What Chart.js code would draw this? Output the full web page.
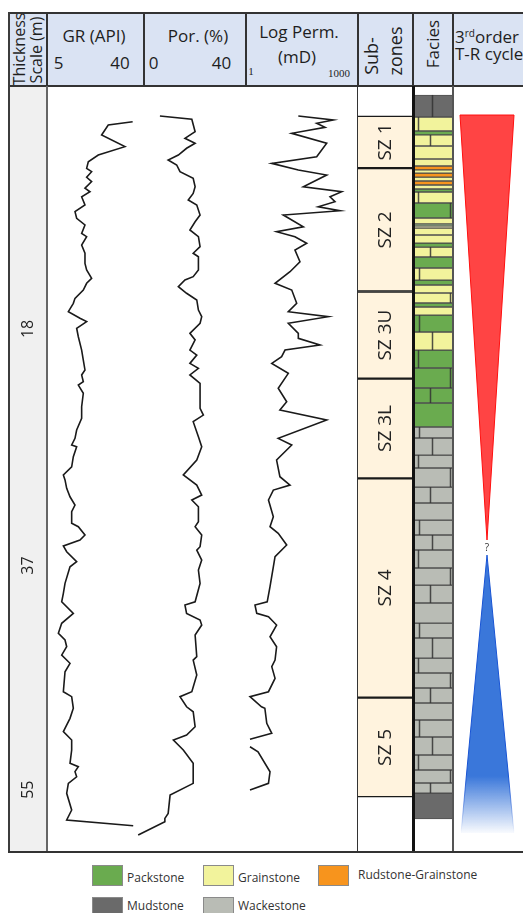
<!DOCTYPE html>
<html lang="en">
<head>
<meta charset="utf-8">
<title>Well log</title>
<script src="https://cdn.jsdelivr.net/npm/chart.js@4.4.1/dist/chart.umd.min.js"></script>
<style>
  html, body { margin:0; padding:0; background:#fff; }
  body { position:relative; width:523px; height:913px; overflow:hidden; font-family:"Open Sans", sans-serif; color:#1e1e1e; }
  canvas.c { position:absolute; display:block; }
  .hdr { position:absolute; left:9px; top:13px; width:540px; height:73px; background:#dae3f3; }
  .t { position:absolute; white-space:nowrap; transform:translate(-50%,-50%); font-size:17px; line-height:1; }
  .r { transform:translate(-50%,-50%) rotate(-90deg); }
  .l { transform:translate(0,-50%); }
  .sm { font-family:"Liberation Serif", serif; font-size:11px; }
  .ln { position:absolute; background:#333; z-index:5; }
  .lg { position:absolute; font-size:12px; color:#333; white-space:nowrap; transform:translate(0,-50%); }
  .sw { position:absolute; width:29px; height:19px; border:1px solid #8a8a8a; }
  sup { font-size:10px; line-height:0; vertical-align:6px; }
</style>
</head>
<body>
<div class="hdr"></div>

<canvas id="depthCv" class="c" width="37" height="766" style="left:10px;top:86px;background:#f0f0f0"></canvas>
<canvas id="logCv" class="c" width="311" height="766" style="left:47px;top:86px"></canvas>
<canvas id="zoneCv" class="c" width="55" height="766" style="left:358px;top:86px"></canvas>
<canvas id="faciesCv" class="c" width="39" height="766" style="left:414px;top:86px"></canvas>
<canvas id="trCv" class="c" width="70" height="766" style="left:453px;top:86px"></canvas>

<!-- frame -->
<div class="ln" style="left:8px;top:12px;width:540px;height:2px"></div>
<div class="ln" style="left:8px;top:85px;width:540px;height:1.5px"></div>
<div class="ln" style="left:8px;top:12px;width:2px;height:841px;background:#3c3c3c"></div>
<div class="ln" style="left:46px;top:12px;width:2px;height:74px"></div>
<div class="ln" style="left:143px;top:12px;width:2px;height:74px"></div>
<div class="ln" style="left:245px;top:12px;width:2px;height:74px"></div>
<div class="ln" style="left:357px;top:12px;width:2px;height:74px"></div>
<div class="ln" style="left:412px;top:12px;width:2px;height:74px"></div>
<div class="ln" style="left:452px;top:12px;width:2px;height:74px"></div>
<div class="ln" style="left:46px;top:86px;width:1.5px;height:766px;background:#666"></div>
<div class="ln" style="left:357px;top:86px;width:1.3px;height:766px;background:#333"></div>
<div class="ln" style="left:412px;top:86px;width:2.5px;height:766px;background:#111"></div>
<div class="ln" style="left:452px;top:86px;width:1.5px;height:766px;background:#555"></div>
<div class="ln" style="left:8px;top:851px;width:540px;height:2px"></div>

<!-- column titles -->
<div class="t r" style="left:19px;top:49px;font-size:16px">Thickness</div>
<div class="t r" style="left:36px;top:50px;font-size:16px">Scale (m)</div>
<div class="t" style="left:94px;top:35px">GR (API)</div>
<div class="t" style="left:58.5px;top:62px">5</div>
<div class="t" style="left:120px;top:62px">40</div>
<div class="t" style="left:198px;top:35px">Por. (%)</div>
<div class="t" style="left:153.5px;top:62px">0</div>
<div class="t" style="left:221.5px;top:62px">40</div>
<div class="t" style="left:299px;top:31px">Log Perm.</div>
<div class="t" style="left:297px;top:56px">(mD)</div>
<div class="t sm" style="left:251px;top:71px">1</div>
<div class="t sm" style="left:339px;top:73px">1000</div>
<div class="t r" style="left:370.5px;top:56px;font-size:18px">Sub-</div>
<div class="t r" style="left:394.5px;top:51px;font-size:18px">zones</div>
<div class="t r" style="left:432px;top:44px">Facies</div>
<div class="t l" style="left:455px;top:36px;font-size:17px">3<sup>rd</sup>order</div>
<div class="t l" style="left:455px;top:53px;font-size:17px">T-R cycle</div>

<div id="legend"></div>

<script>
// ---------- depth axis (m) ----------
const DEPTH_TOP = -1.5;
const DEPTH_BASE = 60;
const depthTicks = [18, 37, 55];

// ---------- GR log ----------
const grDepth = [
  1.37, 1.63, 2.43, 3.37, 4.04, 4.58, 5.11, 5.38, 5.83, 6.18,
  6.71, 6.99, 7.39, 8.05, 8.59, 9.12, 9.66, 10.33, 10.60, 11.27,
  11.93, 12.74, 13.27, 13.94, 14.34, 14.88, 15.55, 15.95, 16.62, 17.15,
  17.42, 17.95, 18.63, 19.70, 20.50, 21.30, 21.70, 22.24, 22.51, 23.17,
  24.25, 25.18, 26.12, 26.79, 27.32, 27.46, 28.26, 29.07, 29.73, 30.13,
  30.80, 31.48, 32.14, 32.68, 33.61, 33.88, 34.55, 34.95, 35.43, 35.89,
  36.69, 37.10, 38.43, 39.23, 39.91, 40.84, 41.64, 42.44, 42.98, 43.52,
  44.19, 44.85, 45.53, 47.13, 47.53, 48.46, 49.27, 50.34, 51.01, 51.81,
  52.88, 53.15, 53.55, 53.96, 54.49, 55.29, 56.63, 57.43, 57.89
];
const grApi = [
  35.9, 27.1, 24.7, 33.1, 23.5, 19.9, 19.3, 21.1, 19.3, 21.1,
  18.7, 20.5, 17.5, 18.7, 15.1, 15.7, 18.7, 17.5, 19.3, 17.5,
  18.7, 18.7, 19.3, 21.1, 19.3, 18.1, 15.1, 14.5, 12.7, 16.9,
  19.3, 15.7, 16.3, 17.5, 18.1, 18.7, 17.5, 18.1, 16.3, 18.1,
  17.5, 17.5, 15.7, 15.1, 13.9, 15.7, 14.5, 13.9, 10.9, 11.5,
  12.1, 13.3, 15.1, 13.9, 13.9, 16.3, 18.7, 16.9, 10.9, 12.1,
  15.7, 13.3, 11.5, 10.9, 10.3, 14.5, 10.3, 9.1, 11.5, 12.1,
  10.3, 13.3, 11.5, 10.9, 13.9, 14.5, 13.3, 10.9, 13.9, 13.9,
  13.3, 16.3, 15.1, 15.7, 12.7, 12.1, 13.9, 12.1, 36.1
];

// ---------- porosity log ----------
const porDepth = [
  0.91, 1.17, 2.17, 2.70, 3.10, 3.50, 4.04, 4.44, 4.84, 5.38,
  5.91, 6.59, 7.12, 7.65, 8.05, 8.86, 9.40, 10.06, 10.60, 11.40,
  11.93, 12.21, 13.27, 13.81, 14.08, 14.61, 15.14, 15.68, 16.49, 17.02,
  17.55, 18.36, 18.89, 19.70, 20.10, 20.77, 21.17, 21.70, 22.37, 23.45,
  24.38, 24.92, 25.45, 26.66, 27.46, 28.53, 29.73, 30.54, 31.34, 31.74,
  32.28, 33.48, 33.88, 34.55, 35.49, 35.76, 36.56, 37.36, 38.43, 39.91,
  40.17, 40.84, 41.38, 41.78, 42.58, 44.32, 44.59, 45.79, 47.13, 47.53,
  48.34, 48.74, 49.94, 50.61, 51.01, 51.81, 52.88, 54.49, 55.43, 56.90,
  57.30, 57.57, 58.64
];
const porPct = [
  8.7, 20.3, 21.5, 17.8, 21.5, 18.4, 15.4, 11.7, 14.8, 16.0,
  20.8, 21.5, 20.8, 19.0, 22.1, 23.3, 21.5, 19.6, 22.7, 23.3,
  20.8, 22.7, 22.7, 20.8, 17.8, 15.4, 18.4, 22.1, 22.7, 23.9,
  23.3, 19.6, 21.5, 19.6, 22.1, 19.6, 22.7, 19.6, 23.3, 23.3,
  23.3, 24.5, 20.8, 22.7, 23.9, 22.1, 17.2, 22.1, 23.9, 20.3,
  22.7, 22.7, 21.5, 23.9, 23.3, 22.1, 23.9, 22.7, 23.3, 21.5,
  17.8, 18.4, 23.3, 23.9, 21.5, 22.1, 20.8, 22.1, 20.3, 16.0,
  18.4, 20.8, 21.5, 18.4, 13.6, 17.2, 20.8, 20.8, 12.4, 11.7,
  10.5, 10.5, 0.8
];

// ---------- permeability log (mD), null = no reading ----------
const permDepth = [
  0.91, 1.23, 1.49, 1.82, 2.30, 3.10, 4.18, 4.71, 5.24, 5.65,
  6.59, 6.99, 7.39, 7.79, 8.19, 8.51, 8.86, 9.80, 10.20, 10.60,
  11.13, 11.67, 12.61, 13.41, 14.34, 14.88, 15.95, 16.62, 17.02, 17.55,
  18.36, 18.76, 19.30, 19.70, 20.23, 20.77, 21.57, 22.77, 23.85, 24.51,
  25.32, 26.79, 27.32, 28.53, 29.87, 30.54, 30.94, 31.74, 33.08, 33.88,
  34.41, 35.35, 36.29, 37.10, 38.70, 39.91, 40.17, 40.84, 41.11, 41.78,
  42.72, 43.52, 44.59, 45.12, 46.06, 47.13, 47.53, 48.34, 48.46, 49.67,
  50.47, 50.95, 51.25, 51.55, 51.95, 53.56, 54.49, 55.02
];
const permMd = [
  25.2, 218, 78.3, 131, 16.8, 145, 78.3, 4.9, 25.2, 145,
  34.3, 366, 178, 242, 86.4, 330, 10.0, 34.3, 6.6, 20.5,
  42.3, 20.5, 27.9, 15.1, 6.0, 16.8, 22.8, 13.6, 160, 13.6,
  25.2, 25.2, 95.9, 11.1, 9.0, 4.9, 13.6, 7.3, 12.3, 8.1,
  145, 7.3, 16.8, 6.6, 8.1, 15.1, 5.4, 4.0, 5.4, 4.4,
  7.3, 12.3, 6.0, 5.4, 4.4, 3.7, 1.74, 1.94, 4.0, 6.6,
  4.4, 6.6, 6.0, 4.9, 6.0, 4.0, 1.28, 2.6, 3.2, 3.6,
  4.9, 1.28, null, 1.28, 2.1, 4.4, 4.0, 1.28
];

// ---------- sub-zones ----------
const zoneNames = ['SZ 1', 'SZ 2', 'SZ 3U', 'SZ 3L', 'SZ 4', 'SZ 5'];
const zoneTop  = [0.9, 5.1, 15.0, 22.0, 30.0, 47.6];
const zoneBase = [5.1, 15.0, 22.0, 30.0, 47.6, 55.6];

// ---------- facies column ----------
const faciesNames = ['Packstone', 'Grainstone', 'Rudstone-Grainstone', 'Mudstone', 'Wackestone'];
const faciesCodes = ['P', 'G', 'R', 'M', 'W'];
const faciesBounds = [
  -0.78, 0.99, 2.11, 2.43, 3.32, 4.36, 4.92, 5.24, 5.49, 5.81,
  6.13, 6.45, 6.77, 7.01, 7.89, 9.10, 9.58, 9.74, 9.90, 10.46,
  11.11, 11.43, 12.23, 13.11, 14.08, 14.48, 15.12, 15.92, 16.24, 16.89,
  18.25, 19.70, 21.14, 22.75, 23.95, 25.88, 26.76, 28.13, 29.17, 30.70,
  31.98, 33.35, 34.55, 35.75, 37.20, 38.57, 40.01, 41.62, 42.82, 44.43,
  45.63, 46.83, 48.04, 49.40, 50.77, 52.21, 53.42, 54.46, 55.27, 57.35
];
const faciesType = [
  'M', 'G', 'P', 'G', 'G', 'G', 'R', 'G', 'R', 'G',
  'R', 'G', 'P', 'G', 'P', 'G', 'P', 'G', 'G', 'G',
  'P', 'G', 'P', 'G', 'P', 'G', 'G', 'P', 'G', 'P',
  'G', 'P', 'P', 'P', 'P', 'W', 'W', 'W', 'W', 'W',
  'W', 'W', 'W', 'W', 'W', 'W', 'W', 'W', 'W', 'W',
  'W', 'W', 'W', 'W', 'W', 'W', 'W', 'W', 'M'
];

// ---------- 3rd order T-R cycle (relative amplitude vs depth) ----------
const transgressiveAmp   = [-27, 27, 0, -27];
const transgressiveDepth = [0.83, 0.83, 34.95, 0.83];
const regressiveAmp      = [0, 27, -26, 0];
const regressiveDepth    = [36.16, 58.48, 58.48, 36.16];
const turnaroundDepth    = 35.62;

// ---------- styling ----------
const FONT = '"Open Sans", sans-serif';
const faciesColor = { P: '#6aab4f', G: '#f2f39c', R: '#f7941d', M: '#6a6a6a', W: '#b9bcb5' };

function baseOptions() {
  return {
    responsive: false, animation: false, events: [],
    layout: { padding: 0 },
    plugins: { legend: { display: false }, tooltip: { enabled: false } }
  };
}
function depthAxis() {
  return { type: 'linear', reverse: true, min: DEPTH_TOP, max: DEPTH_BASE, bounds: 'data', display: false };
}
function points(depths, values) {
  return depths.map((d, i) => ({ x: values[i], y: d }));
}
function rotatedText(ctx, text, x, y, font, color) {
  ctx.save();
  ctx.translate(x, y);
  ctx.rotate(-Math.PI / 2);
  ctx.font = font;
  ctx.fillStyle = color;
  ctx.textAlign = 'center';
  ctx.textBaseline = 'middle';
  ctx.fillText(text, 0, 0);
  ctx.restore();
}

// thickness scale column
new Chart(document.getElementById('depthCv'), {
  type: 'scatter',
  data: { datasets: [] },
  options: Object.assign(baseOptions(), {
    scales: { x: { display: false, min: 0, max: 1 }, y: depthAxis() }
  }),
  plugins: [{
    id: 'depthLabels',
    afterDraw(chart) {
      const y = chart.scales.y;
      depthTicks.forEach(v => rotatedText(chart.ctx, String(v), 18, y.getPixelForValue(v), '16px ' + FONT, '#222'));
    }
  }]
});

// GR, porosity and permeability curves share one track
const curveStyle = { borderColor: '#1a1a1a', borderWidth: 1.6, pointRadius: 0, tension: 0, fill: false };
new Chart(document.getElementById('logCv'), {
  type: 'line',
  data: {
    datasets: [
      Object.assign({ label: 'GR (API)', data: points(grDepth, grApi), xAxisID: 'xGR' }, curveStyle),
      Object.assign({ label: 'Por. (%)', data: points(porDepth, porPct), xAxisID: 'xPor' }, curveStyle),
      Object.assign({ label: 'Log Perm. (mD)', data: points(permDepth, permMd), xAxisID: 'xPerm' }, curveStyle)
    ]
  },
  options: Object.assign(baseOptions(), {
    indexAxis: 'y',
    scales: {
      xGR:   { axis: 'x', type: 'linear', min: 5, max: 117.2, bounds: 'data', display: false },
      xPor:  { axis: 'x', type: 'linear', min: -32.36, max: 80.73, bounds: 'data', display: false },
      xPerm: { axis: 'x', type: 'logarithmic', min: 4.68e-6, max: 1000, bounds: 'data', display: false },
      y: depthAxis()
    }
  })
});

// sub-zone boxes
new Chart(document.getElementById('zoneCv'), {
  type: 'bar',
  data: {
    labels: ['Sub-zones'],
    datasets: zoneNames.map((name, i) => ({
      label: name,
      data: [[zoneTop[i], zoneBase[i]]],
      backgroundColor: '#fff3de',
      borderColor: '#1a1a1a',
      borderWidth: { top: 1.5, bottom: 1.5, left: 0, right: 0 },
      borderSkipped: false,
      grouped: false, barPercentage: 1, categoryPercentage: 1
    }))
  },
  options: Object.assign(baseOptions(), {
    scales: { x: { display: false }, y: depthAxis() }
  }),
  plugins: [{
    id: 'zoneLabels',
    afterDatasetsDraw(chart) {
      chart.data.datasets.forEach((ds, i) => {
        const el = chart.getDatasetMeta(i).data[0];
        rotatedText(chart.ctx, ds.label, el.x, (el.y + el.base) / 2, '19px ' + FONT, '#222');
      });
    }
  }]
});

// facies column with brick joints
new Chart(document.getElementById('faciesCv'), {
  type: 'bar',
  data: {
    labels: ['Facies'],
    datasets: faciesType.map((code, i) => ({
      label: faciesNames[faciesCodes.indexOf(code)],
      data: [[faciesBounds[i], faciesBounds[i + 1]]],
      backgroundColor: faciesColor[code],
      borderColor: 'rgba(50,50,50,0.85)',
      borderWidth: { top: 1, bottom: 1, left: 0, right: 0 },
      borderSkipped: false,
      grouped: false, barPercentage: 1, categoryPercentage: 1
    }))
  },
  options: Object.assign(baseOptions(), {
    scales: { x: { display: false }, y: depthAxis() }
  }),
  plugins: [{
    id: 'brickJoints',
    afterDatasetsDraw(chart) {
      const ctx = chart.ctx;
      const cycle = [0.45, 0.1, 0.93, 0.42, null, 0.12];
      ctx.save();
      ctx.strokeStyle = 'rgba(50,50,50,0.85)';
      ctx.lineWidth = 1.5;
      chart.data.datasets.forEach((ds, i) => {
        const el = chart.getDatasetMeta(i).data[0];
        const top = Math.min(el.y, el.base), bot = Math.max(el.y, el.base);
        if (bot - top < 9 || faciesType[i] === 'R') return;
        const f = cycle[i % cycle.length];
        if (f === null) return;
        const x = Math.round(el.x - el.width / 2 + f * el.width) + 0.5;
        ctx.beginPath();
        ctx.moveTo(x, top);
        ctx.lineTo(x, bot);
        ctx.stroke();
      });
      ctx.restore();
    }
  }]
});

// T-R cycle triangles
function blueFade(chart, edge) {
  const solid = edge ? 'rgba(24,84,212,1)' : 'rgba(58,119,218,1)';
  const clear = edge ? 'rgba(24,84,212,0)' : 'rgba(58,119,218,0.03)';
  const { ctx, chartArea, scales } = chart;
  if (!chartArea || !scales.y) return solid;
  const g = ctx.createLinearGradient(0, scales.y.getPixelForValue(53.9), 0, scales.y.getPixelForValue(58.48));
  g.addColorStop(0, solid);
  g.addColorStop(1, clear);
  return g;
}
new Chart(document.getElementById('trCv'), {
  type: 'line',
  data: {
    datasets: [
      { label: 'Transgressive', data: points(transgressiveDepth, transgressiveAmp), fill: 'shape',
        backgroundColor: '#ff4444', borderColor: '#ff0f0f', borderWidth: 1, pointRadius: 0, tension: 0 },
      { label: 'Regressive', data: points(regressiveDepth, regressiveAmp), fill: 'shape',
        backgroundColor: c => blueFade(c.chart, false), borderColor: c => blueFade(c.chart, true),
        borderWidth: 1, pointRadius: 0, tension: 0 }
    ]
  },
  options: Object.assign(baseOptions(), {
    scales: { x: { type: 'linear', min: -34, max: 36, display: false }, y: depthAxis() }
  }),
  plugins: [{
    id: 'turnaround',
    afterDatasetsDraw(chart) {
      const ctx = chart.ctx;
      ctx.save();
      ctx.font = '10px ' + FONT;
      ctx.fillStyle = '#333';
      ctx.textAlign = 'center';
      ctx.textBaseline = 'middle';
      ctx.fillText('?', chart.scales.x.getPixelForValue(0), chart.scales.y.getPixelForValue(turnaroundDepth));
      ctx.restore();
    }
  }]
});

// facies legend
const legendSlots = [[92, 865], [203, 865], [318, 865], [92, 897], [203, 897]];
const legendEl = document.getElementById('legend');
faciesNames.forEach((name, i) => {
  const [x, y] = legendSlots[i];
  const sw = document.createElement('div');
  sw.className = 'sw';
  sw.style.left = x + 'px';
  sw.style.top = y + 'px';
  sw.style.background = faciesColor[faciesCodes[i]];
  legendEl.appendChild(sw);
  const tx = document.createElement('div');
  tx.className = 'lg';
  tx.textContent = name;
  tx.style.left = (x + (i === 2 ? 40 : 35)) + 'px';
  tx.style.top = (y + (i === 2 ? 9 : (i > 2 ? 8 : 12))) + 'px';
  legendEl.appendChild(tx);
});
</script>
</body>
</html>
